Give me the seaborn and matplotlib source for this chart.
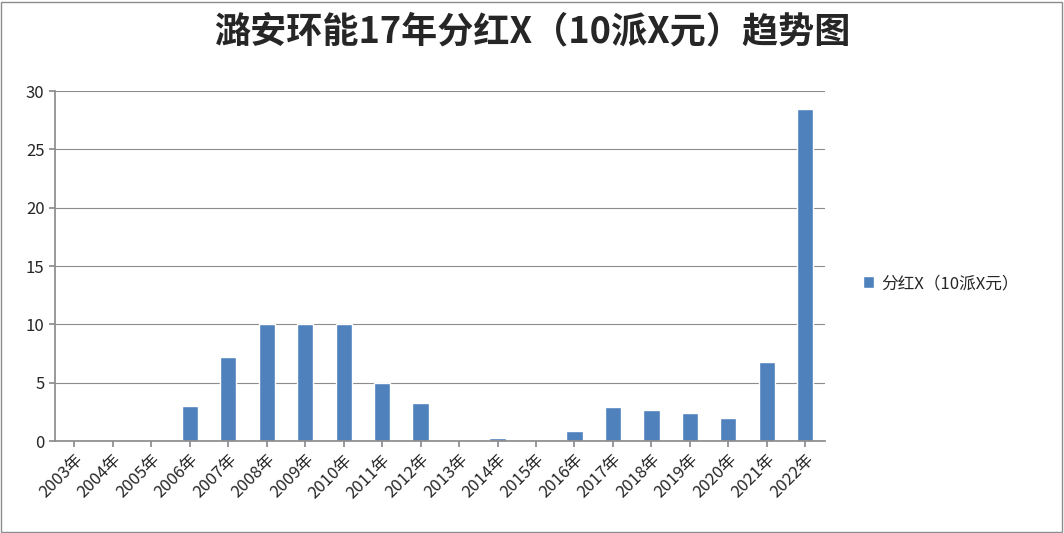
import matplotlib
matplotlib.use("Agg")
import matplotlib.pyplot as plt
import seaborn as sns
import pandas as pd

years = [f"{y}年" for y in range(2003, 2023)]
values = [0, 0, 0, 3.0, 7.2, 10, 10, 10, 5.0, 3.3, 0, 0.3, 0, 0.9, 2.9, 2.7, 2.4, 1.95, 6.8, 28.5]
series_name = "分红X（10派X元）"
title = "潞安环能17年分红X（10派X元）趋势图"

sns.set_theme(style="white")
plt.rcParams['font.family'] = ['Noto Sans CJK SC', 'DejaVu Sans']

df = pd.DataFrame({"year": years, "value": values, "series": series_name})
fig = plt.figure(figsize=(10.64, 5.33), dpi=100)
ax = fig.add_axes([0.0517, 0.1726, 0.7233, 0.6566])
sns.barplot(data=df, x="year", y="value", hue="series", palette=["#4F81BD"],
            width=0.42, ax=ax, saturation=1)
ax.set_ylim(0, 30)
ax.set_yticks(range(0, 31, 5))
ax.yaxis.grid(True, color="#8c8c8c", linewidth=0.8)
ax.set_axisbelow(True)
for s in ["top", "right"]:
    ax.spines[s].set_visible(False)
ax.spines["left"].set_color("#8c8c8c")
ax.spines["bottom"].set_color("#8c8c8c")
ax.set_xlabel("")
ax.set_ylabel("")
ax.set_xlim(-0.5, len(years) - 0.5)
ax.tick_params(axis="x", rotation=45, labelsize=12, length=4, color="#8c8c8c", bottom=True)
for lab in ax.get_xticklabels():
    lab.set_ha("right")
    lab.set_rotation_mode("anchor")
ax.tick_params(axis="y", labelsize=12, left=True, length=4, color="#8c8c8c")
ax.legend(loc="center left", bbox_to_anchor=(1.03, 0.45), frameon=False, fontsize=12,
          handlelength=0.7, handleheight=0.7, handletextpad=0.4)
fig.suptitle(title, fontsize=26, fontweight="bold", y=0.975)
fig.patches.append(plt.Rectangle((0.001, 0.002), 0.997, 0.995, transform=fig.transFigure,
                                 fill=False, edgecolor="#8c8c8c", linewidth=1))
fig.savefig("out.png", dpi=100)
